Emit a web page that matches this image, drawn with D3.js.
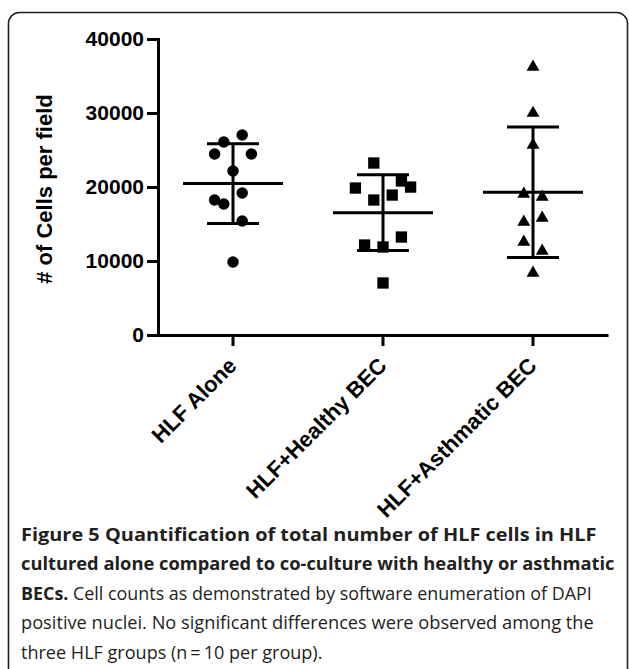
<!DOCTYPE html>
<html>
<head>
<meta charset="utf-8">
<script src="https://cdn.jsdelivr.net/npm/d3@7"></script>
<style>
  body { margin: 0; background: #fff; }
  .axis path, .axis line { stroke: #000; stroke-width: 3; }
  .axis text { font-family: "Liberation Sans", Arial, sans-serif; font-weight: bold; fill: #000; }
</style>
</head>
<body>
<script>
// Groups on the x axis
var groups = ["HLF Alone", "HLF+Healthy BEC", "HLF+Asthmatic BEC"];

// Cells per field (n = 10 per group)
var alone     = [26080, 27030, 24460, 24460, 22160, 19190, 18240, 17700, 15400, 9860];
var healthy   = [23240, 19860, 18240, 18910, 20810, 19990, 13240, 12160, 11890, 7030];
var asthmatic = [36210, 29990, 25670, 19050, 18640, 15810, 15270, 12560, 11350, 8380];

// Column slot of each point in the scatter (where Prism pushed it sideways)
var aloneSlot     = [-1, 1, -2, 2, 0, 1, -2, -1, 1, 0];
var healthySlot   = [-1, -3, -1, 1, 2, 3, 2, -2, 0, 0];
var asthmaticSlot = [0, 0, 0, -1, 1, 1, -1, -1, 1, 0];

var yTicks = [0, 10000, 20000, 30000, 40000];

var captionLines = [
  [{t: "Figure 5 Quantification of total number of HLF cells in HLF", b: true}],
  [{t: "cultured alone compared to co-culture with healthy or asthmatic", b: true}],
  [{t: "BECs.", b: true}, {t: " Cell counts as demonstrated by software enumeration of DAPI", b: false}],
  [{t: "positive nuclei. No significant differences were observed among the", b: false}],
  [{t: "three HLF groups (n\u2009=\u200910 per group).", b: false}]
];
// right edge of each caption line in the picture (last line is left ragged)
var captionEnds = [597, 615, 592, 594, null];

var series = [
  {name: groups[0], values: alone, slots: aloneSlot, shape: d3.symbolCircle, size: 104},
  {name: groups[1], values: healthy, slots: healthySlot, shape: d3.symbolSquare, size: 128},
  {name: groups[2], values: asthmatic, slots: asthmaticSlot, shape: d3.symbolTriangle, size: 72}
];

var W = 629, H = 669;
var svg = d3.select("body").append("svg").attr("width", W).attr("height", H);

// rounded frame
svg.append("rect")
  .attr("x", 8.5).attr("y", 12.5)
  .attr("width", 619).attr("height", 720)
  .attr("rx", 11)
  .attr("fill", "none").attr("stroke", "#231f20").attr("stroke-width", 1.6);

var x = d3.scaleBand().domain(groups).range([158, 608]);
var y = d3.scaleLinear().domain([0, 40000]).range([335, 39]);
var slotW = 9.2;

// y axis
var gy = svg.append("g").attr("class", "axis").attr("transform", "translate(158,0)")
  .call(d3.axisLeft(y).tickValues(yTicks).tickSize(11).tickSizeOuter(0).tickPadding(3)
    .tickFormat(d3.format("d")));
gy.select(".domain").attr("stroke-linecap", "square");
gy.selectAll("text").style("font-size", "21px");

// x axis
var gx = svg.append("g").attr("class", "axis").attr("transform", "translate(0,335)")
  .call(d3.axisBottom(x).tickSize(11).tickSizeOuter(0));
gx.selectAll("text")
  .attr("x", 0).attr("y", 0).attr("dy", 0)
  .attr("transform", "translate(5,32) rotate(-45)")
  .style("text-anchor", "end")
  .style("font-size", "22px");

// y axis title
svg.append("text")
  .attr("transform", "translate(52,189) rotate(-90)")
  .attr("text-anchor", "middle")
  .style("font-family", "'Liberation Sans', Arial, sans-serif")
  .style("font-weight", "bold")
  .style("font-size", "22px")
  .text("# of Cells per field");

// points, mean and SD bars
series.forEach(function(s) {
  var cx = x(s.name) + x.bandwidth() / 2;
  var m = d3.mean(s.values), sd = d3.deviation(s.values);
  var g = svg.append("g");

  g.selectAll("path.pt")
    .data(s.values)
    .enter().append("path")
    .attr("class", "pt")
    .attr("d", d3.symbol().type(s.shape).size(s.size))
    .attr("transform", function(d, i) {
      return "translate(" + (cx + s.slots[i] * slotW) + "," + y(d) + ")";
    })
    .attr("fill", "#000");

  var bars = g.append("g").attr("stroke", "#000").attr("stroke-width", 3);
  bars.append("line").attr("x1", cx).attr("x2", cx).attr("y1", y(m - sd)).attr("y2", y(m + sd));
  bars.append("line").attr("x1", cx - 50).attr("x2", cx + 50).attr("y1", y(m)).attr("y2", y(m));
  [m - sd, m + sd].forEach(function(v) {
    bars.append("line").attr("x1", cx - 26).attr("x2", cx + 26).attr("y1", y(v)).attr("y2", y(v));
  });
});

// caption
var scales = [];
captionLines.forEach(function(line, i) {
  var g = svg.append("g").attr("transform", "translate(21," + (541 + i * 29.4) + ")");
  var t = g.append("text")
    .style("font-family", "'Open Sans', 'Noto Sans', sans-serif")
    .style("font-size", "18.5px")
    .attr("fill", "#231f20");
  line.forEach(function(p) {
    t.append("tspan").text(p.t).style("font-weight", p.b ? "bold" : "normal");
  });
  var w = t.node().getComputedTextLength();
  var k = captionEnds[i] ? (captionEnds[i] - 21) / w : d3.mean(scales.slice(2));
  scales.push(k);
  g.attr("transform", "translate(21," + (541 + i * 29.4) + ") scale(" + k + ",1)");
});
</script>
</body>
</html>
